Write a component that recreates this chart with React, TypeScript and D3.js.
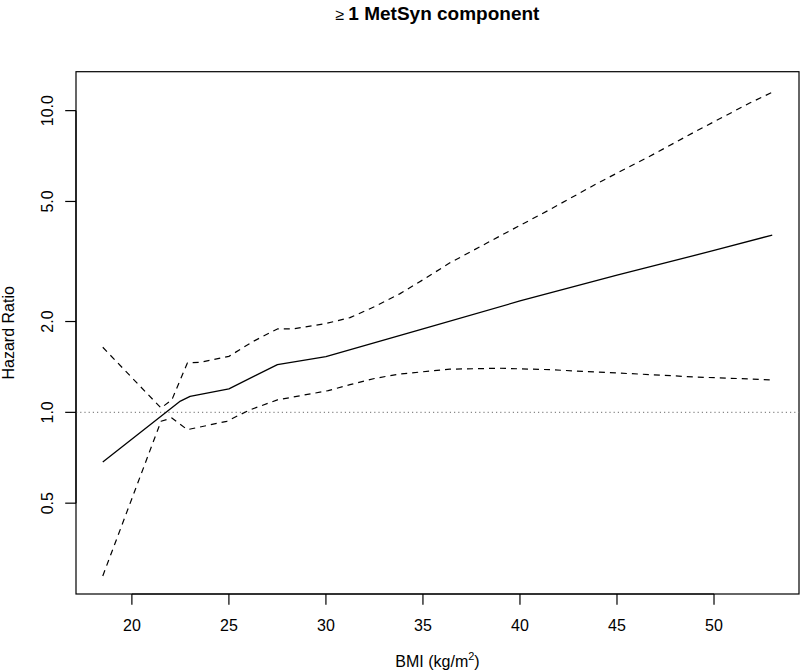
import React from "react";
import * as d3 from "d3";

const title = "1 MetSyn component";
const xLabel = "BMI (kg/m";
const yLabel = "Hazard Ratio";

const xTicks = [20, 25, 30, 35, 40, 45, 50];
const yTicks = [0.5, 1, 2, 5, 10];
const yTickLabels = ["0.5", "1.0", "2.0", "5.0", "10.0"];

// Estimated hazard ratio (solid)
const hrX = [18.5, 22.5, 23, 25, 27.5, 30, 35, 40, 45, 50, 53];
const hrY = [0.685, 1.09, 1.13, 1.196, 1.44, 1.53, 1.89, 2.34, 2.85, 3.44, 3.87];

// Upper 95% CI (dashed)
const upX = [18.5, 21.5, 22.06, 22.86, 23.5, 25, 26.26, 27.5, 28.3, 30, 31.24, 32.5, 33.8, 35, 36.39, 39, 41.54, 44, 46.69, 49, 51.84, 53];
const upY = [1.643, 1.034, 1.1, 1.458, 1.464, 1.533, 1.72, 1.89, 1.89, 1.97, 2.06, 2.24, 2.47, 2.75, 3.13, 3.85, 4.7, 5.75, 7.06, 8.5, 10.6, 11.5];

// Lower 95% CI (dashed)
const loX = [18.5, 21.5, 22.06, 22.86, 24.89, 25.58, 26.1, 27.5, 30.12, 31.24, 32.5, 33.8, 36.39, 38.97, 41.54, 44, 46.69, 49, 51.84, 53];
const loY = [0.287, 0.934, 0.958, 0.876, 0.934, 0.983, 1.02, 1.1, 1.18, 1.235, 1.295, 1.34, 1.39, 1.4, 1.385, 1.36, 1.334, 1.31, 1.29, 1.28];

const refLine = 1;

const W = 800;
const H = 671;
const left = 76;
const right = 799;
const top = 71.7;
const bottom = 594;

export default function App() {
  const x = d3.scaleLinear().domain([17.12, 54.38]).range([left, right]);
  const y = d3.scaleLog().domain([0.25, 13.46]).range([bottom, top]);

  const line = d3
    .line<[number, number]>()
    .x((d) => x(d[0]))
    .y((d) => y(d[1]));

  const zip = (a: number[], b: number[]) => a.map((v, i) => [v, b[i]] as [number, number]);

  const font = "'Liberation Sans', Arial, Helvetica, sans-serif";
  const tickLen = 10.8;
  const cx = (left + right) / 2;
  const cy = (top + bottom) / 2;

  return (
    <svg
      width={W}
      height={H}
      style={{ position: "absolute", left: 0, top: 0, background: "#fff" }}
      fontFamily={font}
    >
      <rect x={0} y={0} width={W} height={H} fill="#fff" />
      {/* title */}
      <text x={cx} y={19.5} textAnchor="middle" fontSize={19} fontWeight="bold" fill="#000">
        <tspan fontWeight="normal" fontSize={16}>≥</tspan>
        <tspan dx={4}>{title}</tspan>
      </text>

      {/* box */}
      <rect x={left} y={top} width={right - left} height={bottom - top} fill="none" stroke="#000" strokeWidth={1.2} />

      {/* reference line */}
      <line x1={left} x2={right} y1={y(refLine)} y2={y(refLine)} stroke="#888" strokeWidth={1.2} strokeDasharray="1.2,3" />

      {/* curves */}
      <path d={line(zip(upX, upY)) || ""} fill="none" stroke="#000" strokeWidth={1.2} strokeDasharray="6,5" strokeLinejoin="round" />
      <path d={line(zip(loX, loY)) || ""} fill="none" stroke="#000" strokeWidth={1.2} strokeDasharray="6,5" strokeLinejoin="round" />
      <path d={line(zip(hrX, hrY)) || ""} fill="none" stroke="#000" strokeWidth={1.3} strokeLinejoin="round" />

      {/* x axis */}
      <line x1={x(xTicks[0])} x2={x(xTicks[xTicks.length - 1])} y1={bottom} y2={bottom} stroke="#000" strokeWidth={1.2} />
      {xTicks.map((t) => (
        <g key={t}>
          <line x1={x(t)} x2={x(t)} y1={bottom} y2={bottom + tickLen} stroke="#000" strokeWidth={1.2} />
          <text x={x(t)} y={631} textAnchor="middle" fontSize={16} fill="#000">
            {t}
          </text>
        </g>
      ))}
      <text x={cx} y={667} textAnchor="middle" fontSize={16} fill="#000">
        {xLabel}
        <tspan fontSize={11} dy={-7}>2</tspan>
        <tspan dy={7}>)</tspan>
      </text>

      {/* y axis */}
      <line x1={left} x2={left} y1={y(yTicks[0])} y2={y(yTicks[yTicks.length - 1])} stroke="#000" strokeWidth={1.2} />
      {yTicks.map((t, i) => (
        <g key={t}>
          <line x1={left} x2={left - tickLen} y1={y(t)} y2={y(t)} stroke="#000" strokeWidth={1.2} />
          <text
            transform={`translate(${52.5},${y(t)}) rotate(-90)`}
            textAnchor="middle"
            fontSize={16}
            fill="#000"
          >
            {yTickLabels[i]}
          </text>
        </g>
      ))}
      <text transform={`translate(${14},${cy}) rotate(-90)`} textAnchor="middle" fontSize={16} fill="#000">
        {yLabel}
      </text>
    </svg>
  );
}
